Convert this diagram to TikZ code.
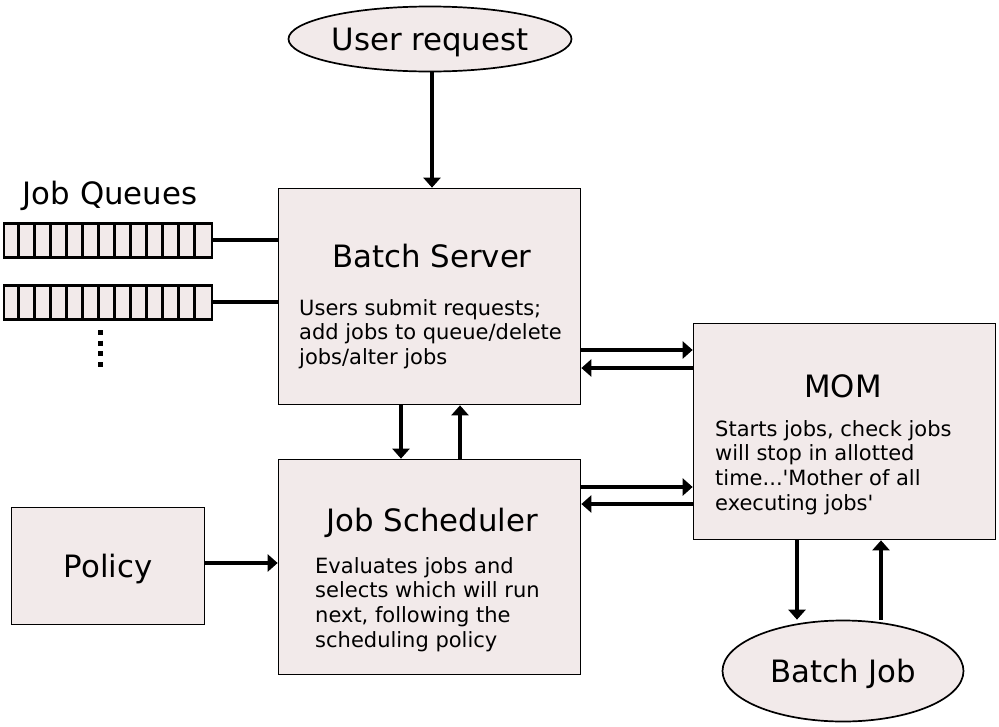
\documentclass[tikz,border=0pt]{standalone}
\usepackage{fontspec}
\setmainfont{DejaVu Sans}
\usetikzlibrary{shapes.geometric,arrows.meta}

\definecolor{boxfill}{HTML}{F2EAEA}
\newcommand{\titlefont}{\fontsize{30.8}{36}\selectfont}
\newcommand{\descfont}{\fontsize{21}{24.7}\selectfont}

\begin{document}
\begin{tikzpicture}[x=1pt,y=-1pt]
\tikzstyle{every node}=[font=\titlefont]
\tikzstyle{block}=[draw, line width=1.7pt, fill=boxfill, inner sep=0pt]
\tikzstyle{oval}=[block, ellipse, text depth=0pt]
\tikzstyle{queue}=[block, line width=2.8pt, minimum width=208pt, minimum height=34pt, anchor=north west]
\tikzstyle{desc}=[font=\descfont, align=left, anchor=north west, inner sep=0pt]
\tikzstyle{link}=[line width=4pt]
\tikzstyle{arr}=[link, -{Triangle[length=10pt,width=17pt]}]

\useasboundingbox (0,0) rectangle (999,726);

% ellipses
\node[oval, minimum width=283pt, minimum height=65pt] (user) at (430,39) {User request};
\node[oval, minimum width=241pt, minimum height=101pt] (job) at (843,671) {Batch Job};

% boxes
\node[block, minimum width=302pt, minimum height=216pt] (server) at (429.5,296.5) {};
\node[anchor=base] (servertitle) at (432,267) {Batch Server};
\node[desc] (serverdesc) at (299,299) {Users submit requests;\\ add jobs to queue/delete\\ jobs/alter jobs};

\node[block, minimum width=302pt, minimum height=215pt] (sched) at (429.5,567) {};
\node[anchor=base] (schedtitle) at (432,531) {Job Scheduler};
\node[desc] (scheddesc) at (315,557) {Evaluates jobs and\\ selects which will run\\ next, following the\\ scheduling policy};

\node[block, minimum width=302pt, minimum height=216pt] (mom) at (844.5,431.5) {};
\node[anchor=base] (momtitle) at (843,397) {MOM};
\node[desc] (momdesc) at (715,420) {Starts jobs, check jobs\\ will stop in allotted\\ time...\textquotesingle Mother of all\\ executing jobs\textquotesingle};

\node[block, text depth=0pt, minimum width=193pt, minimum height=117pt] (policy) at (108,566) {Policy};

% job queues
\node[anchor=base] (queuelabel) at (110,204) {Job Queues};
\node[queue] (queue1) at (2.5,222) {};
\node[queue] (queue2) at (2.5,284) {};
\foreach \q in {queue1,queue2}
  \foreach \i in {1,...,12}
    \draw[line width=2.8pt] ([xshift=\i*16pt]\q.north west) -- ([xshift=\i*16pt]\q.south west);
\draw[line width=5pt, dash pattern=on 5pt off 5.7pt] (100,330) -- (100,367);

\draw[link] (queue1.east) -- (server.west |- queue1.east);
\draw[link] (queue2.east) -- (server.west |- queue2.east);

% arrows
\draw[arr] (user.south -| 432,0) -- (server.north -| 432,0);
\draw[arr] (server.south -| 401,0) -- (sched.north -| 401,0);
\draw[arr] (sched.north -| 460,0) -- (server.south -| 460,0);
\draw[arr] (server.east |- 0,350) -- (mom.west |- 0,350);
\draw[arr] (mom.west |- 0,368) -- (server.east |- 0,368);
\draw[arr] (sched.east |- 0,487) -- (mom.west |- 0,487);
\draw[arr] (mom.west |- 0,504) -- (sched.east |- 0,504);
\draw[arr] (policy.east |- 0,563) -- (sched.west |- 0,563);
\draw[arr] (mom.south -| 797,0) -- (job.north -| 797,0);
\draw[arr] (job.north -| 881,0) -- (mom.south -| 881,0);

\end{tikzpicture}
\end{document}
